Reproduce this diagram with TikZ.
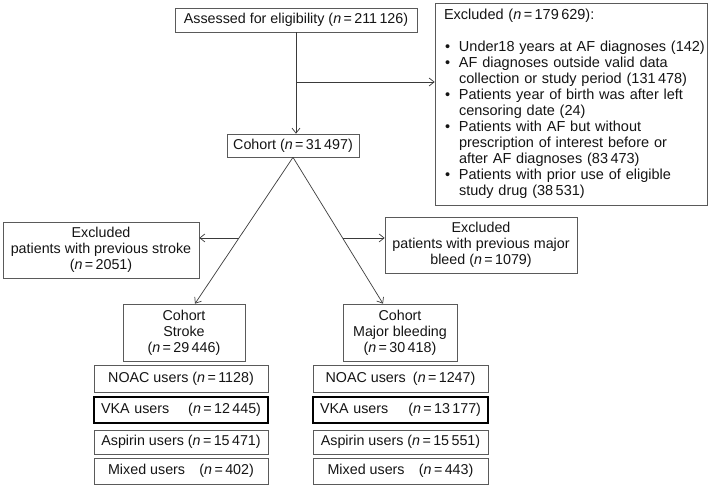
\documentclass[tikz,border=0pt]{standalone}
\usepackage{fontspec}
\setmainfont{Liberation Sans}
\usetikzlibrary{arrows.meta,calc}
\definecolor{boxline}{HTML}{5A5A5A}
\definecolor{txt}{HTML}{141414}
\definecolor{connc}{HTML}{3A3A3A}
\newcommand{\nn}{\textit{n}}
\newcommand{\bul}[1]{\mbox{\makebox[21pt][l]{\hspace*{7pt}•}#1}}
\newcommand{\ind}[1]{\mbox{\hspace*{21pt}#1}}
\begin{document}
\begin{tikzpicture}[x=1pt,y=-1pt,
  box/.style={draw=boxline,line width=0.7pt,inner sep=0pt,align=center,text=txt,font=\fontsize{14.3}{16}\selectfont},
  thickbox/.style={box,draw=black,line width=1.4pt},
  userL/.style={minimum width=174pt},
  userR/.style={minimum width=175pt},
  conn/.style={draw=connc,line width=0.7pt,-{Straight Barb[length=5pt,width=8pt]}}]
\useasboundingbox (0,0) rectangle (709,488);

\node[box,minimum width=242pt,minimum height=24pt] (assess) at (296,20) {Assessed for eligibility (\nn\,=\,211\,126)};

\node[box,align=left,text width=266pt,inner xsep=3pt,minimum height=202pt,font=\fontsize{14.5}{16}\selectfont] (excl) at (571,104)
 {\mbox{\hspace*{6pt}Excluded (\nn\,=\,179\,629):}\\
  \strut\\
  \bul{Under18 years at AF diagnoses (142)}\\
  \bul{AF diagnoses outside valid data}\\
  \ind{collection or study period (131\,478)}\\
  \bul{Patients year of birth was after left}\\
  \ind{censoring date (24)}\\
  \bul{Patients with AF but without}\\
  \ind{prescription of interest before or}\\
  \ind{after AF diagnoses (83\,473)}\\
  \bul{Patients with prior use of eligible}\\
  \ind{study drug (38\,531)}};

\node[box,minimum width=132pt,minimum height=23pt] (cohort) at (293,145.5) {Cohort (\nn\,=\,31\,497)};

\node[box,minimum width=196pt,minimum height=56pt] (exStroke) at (101,250) {Excluded\\patients with previous stroke\\(\nn\,=\,2051)};
\node[box,minimum width=192pt,minimum height=56pt] (exBleed) at (481,245) {Excluded\\patients with previous major\\bleed (\nn\,=\,1079)};

\node[box,minimum width=122pt,minimum height=57pt] (cStroke) at (184,332.5) {Cohort\\Stroke\\(\nn\,=\,29\,446)};
\node[box,minimum width=114pt,minimum height=57pt] (cBleed) at (400,332.5) {Cohort\\Major bleeding\\(\nn\,=\,30\,418)};

\node[box,userL,minimum height=27pt] (noacL) at (181,378.5) {NOAC users (\nn\,=\,1128)};
\node[thickbox,text width=160pt,inner xsep=7pt,minimum height=26pt] (vkaL) at (181,410) {VKA users\hfill(\nn\,=\,12\,445)};
\node[box,userL,minimum height=24pt] (aspL) at (181,442) {Aspirin users (\nn\,=\,15\,471)};
\node[box,userL,minimum height=26pt] (mixL) at (181,471) {Mixed users\hspace{1em}(\nn\,=\,402)};

\node[box,userR,minimum height=27pt] (noacR) at (400.5,378.5) {NOAC users\hspace{0.5em}(\nn\,=\,1247)};
\node[thickbox,text width=161pt,inner xsep=7pt,minimum height=26pt] (vkaR) at (400.5,410) {VKA users\hfill(\nn\,=\,13\,177)};
\node[box,userR,minimum height=24pt] (aspR) at (400.5,442) {Aspirin users (\nn\,=\,15\,551)};
\node[box,userR,minimum height=26pt] (mixR) at (400.5,471) {Mixed users\hspace{1em}(\nn\,=\,443)};

% connectors
\coordinate (j1) at (assess.south |- 0,82);
\draw[conn] (assess.south) -- (assess.south |- cohort.north);
\draw[conn] (j1) -- (j1 -| excl.west);

\coordinate (sTop) at (cStroke.north -| 195,0);
\coordinate (bTop) at (cBleed.north -| 383,0);
\draw[conn] (cohort.south) -- (sTop) coordinate[pos=0.551] (sL);
\draw[conn] (cohort.south) -- (bTop) coordinate[pos=0.551] (bL);
\draw[conn] (sL) -- (sL -| exStroke.east);
\draw[conn] (bL) -- (bL -| exBleed.west);
\end{tikzpicture}
\end{document}
